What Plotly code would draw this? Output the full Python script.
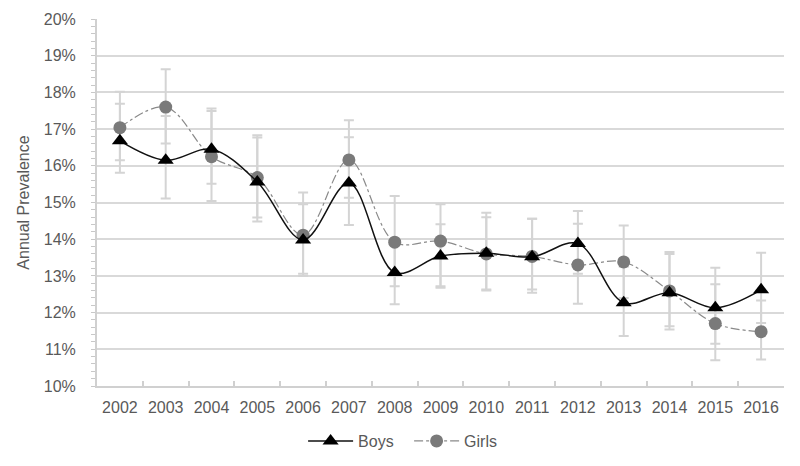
import plotly.graph_objects as go

years = ["2002", "2003", "2004", "2005", "2006", "2007", "2008", "2009",
         "2010", "2011", "2012", "2013", "2014", "2015", "2016"]

boys = [16.68, 16.15, 16.45, 15.56, 13.98, 15.53, 13.09, 13.54,
        13.62, 13.52, 13.88, 12.27, 12.54, 12.13, 12.62]
boys_upper = [17.69, 17.36, 17.49, 16.77, 14.95, 16.78, 13.95, 14.41,
              14.60, 14.56, 14.77, 13.25, 13.60, 13.22, 13.63]
boys_lower = [15.81, 15.11, 15.51, 14.48, 13.00, 14.39, 12.23, 12.68,
              12.60, 12.54, 13.06, 11.36, 11.54, 11.15, 11.72]

girls = [17.04, 17.60, 16.25, 15.68, 14.11, 16.16, 13.92, 13.95,
         13.60, 13.53, 13.30, 13.38, 12.59, 11.70, 11.48]
girls_upper = [18.02, 18.63, 17.56, 16.83, 15.27, 17.24, 15.18, 14.95,
               14.72, 14.56, 14.42, 14.37, 13.65, 12.77, 12.33]
girls_lower = [16.15, 16.61, 15.04, 14.59, 13.06, 15.13, 12.72, 12.72,
               12.63, 12.63, 12.24, 12.40, 11.63, 10.70, 10.72]

y_ticks = [10, 11, 12, 13, 14, 15, 16, 17, 18, 19, 20]

err_color = "#d4d4d4"
font_fam = "Liberation Sans, Arial, sans-serif"

def err(vals, up, lo):
    return dict(type="data", symmetric=False,
                array=[u - v for u, v in zip(up, vals)],
                arrayminus=[v - l for v, l in zip(vals, lo)],
                color=err_color, thickness=2, width=5)

fig = go.Figure()

# error bars drawn first (behind lines)
fig.add_trace(go.Scatter(x=years, y=boys, mode="markers",
                         marker=dict(size=1, color="rgba(0,0,0,0)"),
                         error_y=err(boys, boys_upper, boys_lower),
                         showlegend=False, hoverinfo="skip"))
fig.add_trace(go.Scatter(x=years, y=girls, mode="markers",
                         marker=dict(size=1, color="rgba(0,0,0,0)"),
                         error_y=err(girls, girls_upper, girls_lower),
                         showlegend=False, hoverinfo="skip"))

fig.add_trace(go.Scatter(x=years, y=girls, mode="lines+markers", name="Girls",
                         line=dict(color="#8a8a8a", width=1.2, dash="dashdot",
                                   shape="spline", smoothing=1),
                         marker=dict(symbol="circle", size=13, color="#7a7a7a")))
fig.add_trace(go.Scatter(x=years, y=boys, mode="lines+markers", name="Boys",
                         line=dict(color="#111111", width=1.5,
                                   shape="spline", smoothing=1),
                         marker=dict(symbol="triangle-up", size=14, color="#000000")))

fig.update_layout(
    width=800, height=466,
    margin=dict(l=89, r=24, t=11, b=88, autoexpand=False),
    paper_bgcolor="white", plot_bgcolor="white",
    font=dict(family=font_fam, size=16, color="#595959"),
    legend=dict(orientation="h", x=0.30, xanchor="left",
                y=-0.15, yanchor="middle",
                traceorder="reversed", font=dict(size=16, color="#595959"),
                itemwidth=45, entrywidth=46),
    showlegend=True,
)

fig.update_xaxes(type="category", range=[-0.5, 14.5],
                 showgrid=False, showline=True, linecolor="#d0d0d0", linewidth=2,
                 ticks="inside", tickson="boundaries", ticklen=5, tickcolor="#d0d0d0",
                 tickwidth=1.5, ticklabelstandoff=6, tickangle=0,
                 tickfont=dict(size=16, color="#595959"))

fig.update_yaxes(range=[10, 20], tickvals=y_ticks,
                 ticktext=[f"{t}%" for t in y_ticks],
                 showgrid=True, gridcolor="#d9d9d9", gridwidth=2,
                 showline=True, linecolor="#d0d0d0", linewidth=2,
                 ticks="outside", ticklen=4, tickcolor="#c8c8c8",
                 ticklabelstandoff=12,
                 minor=dict(dtick=0.2, ticks="outside", ticklen=4, tickcolor="#c8c8c8",
                            showgrid=False),
                 zeroline=False,
                 title=dict(text="Annual Prevalence", standoff=10,
                            font=dict(size=16, color="#595959")),
                 tickfont=dict(size=16, color="#595959"))

fig.write_html("out.html")
